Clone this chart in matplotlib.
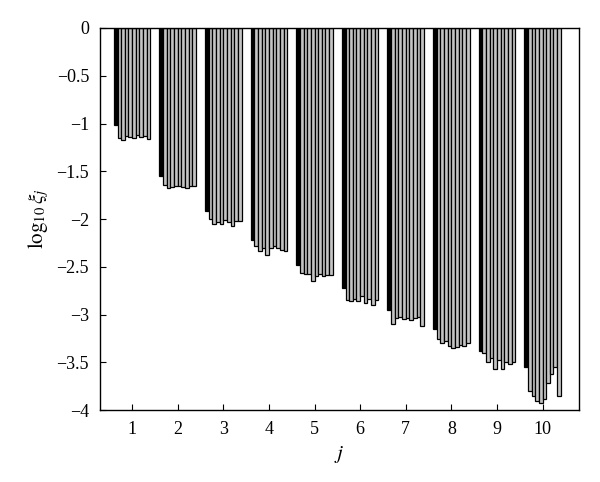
import numpy as np
import matplotlib.pyplot as plt

plt.rcParams['font.family'] = ['Liberation Serif', 'DejaVu Serif']
plt.rcParams['mathtext.fontset'] = 'stix'

groups = list(range(1, 11))
# one black bar then nine grey bars per group
g1 = [-1.02, -1.15, -1.17, -1.13, -1.14, -1.15, -1.12, -1.14, -1.13, -1.16]
g2 = [-1.55, -1.64, -1.67, -1.66, -1.65, -1.65, -1.66, -1.68, -1.65, -1.65]
g3 = [-1.92, -2.00, -2.05, -2.03, -2.05, -2.01, -2.03, -2.07, -2.02, -2.02]
g4 = [-2.22, -2.28, -2.33, -2.30, -2.38, -2.30, -2.28, -2.30, -2.32, -2.33]
g5 = [-2.48, -2.56, -2.58, -2.57, -2.65, -2.60, -2.58, -2.60, -2.59, -2.59]
g6 = [-2.72, -2.85, -2.86, -2.84, -2.86, -2.80, -2.88, -2.84, -2.90, -2.85]
g7 = [-2.95, -3.10, -3.04, -3.02, -3.05, -3.04, -3.06, -3.04, -3.03, -3.12]
g8 = [-3.15, -3.26, -3.30, -3.28, -3.33, -3.35, -3.34, -3.32, -3.33, -3.30]
g9 = [-3.38, -3.40, -3.50, -3.45, -3.57, -3.48, -3.57, -3.50, -3.52, -3.50]
g10 = [-3.55, -3.80, -3.85, -3.90, -3.93, -3.88, -3.72, -3.62, -3.55, -3.85]
data = [g1, g2, g3, g4, g5, g6, g7, g8, g9, g10]

fig = plt.figure(figsize=(6, 4.82), dpi=100)
ax = fig.add_axes([0.167, 0.149, 0.798, 0.793])

w = 0.08
for j, vals in zip(groups, data):
    n = len(vals)
    for k, v in enumerate(vals):
        x = j + (k - (n - 1) / 2) * w
        if k == 0:
            ax.bar(x, v, width=w, color='black', edgecolor='black', linewidth=0.9)
        else:
            ax.bar(x, v, width=w, color='#c4c4c4', edgecolor='black', linewidth=0.9)

ax.set_xlim(0.3, 10.8)
ax.set_ylim(-4, 0)
ax.set_xticks(groups)
ax.set_yticks(np.arange(-4, 0.01, 0.5))
ax.set_yticklabels(['\u22124', '\u22123.5', '\u22123', '\u22122.5', '\u22122',
                    '\u22121.5', '\u22121', '\u22120.5', '0'])
ax.tick_params(direction='in', top=False, right=False, labelsize=13, length=4, pad=8)
ax.set_xlabel('$j$', fontsize=15)
ax.set_ylabel(r'$\log_{10}\xi_j$', fontsize=15)
for s in ax.spines.values():
    s.set_linewidth(1)

plt.savefig('out.png', dpi=100)
